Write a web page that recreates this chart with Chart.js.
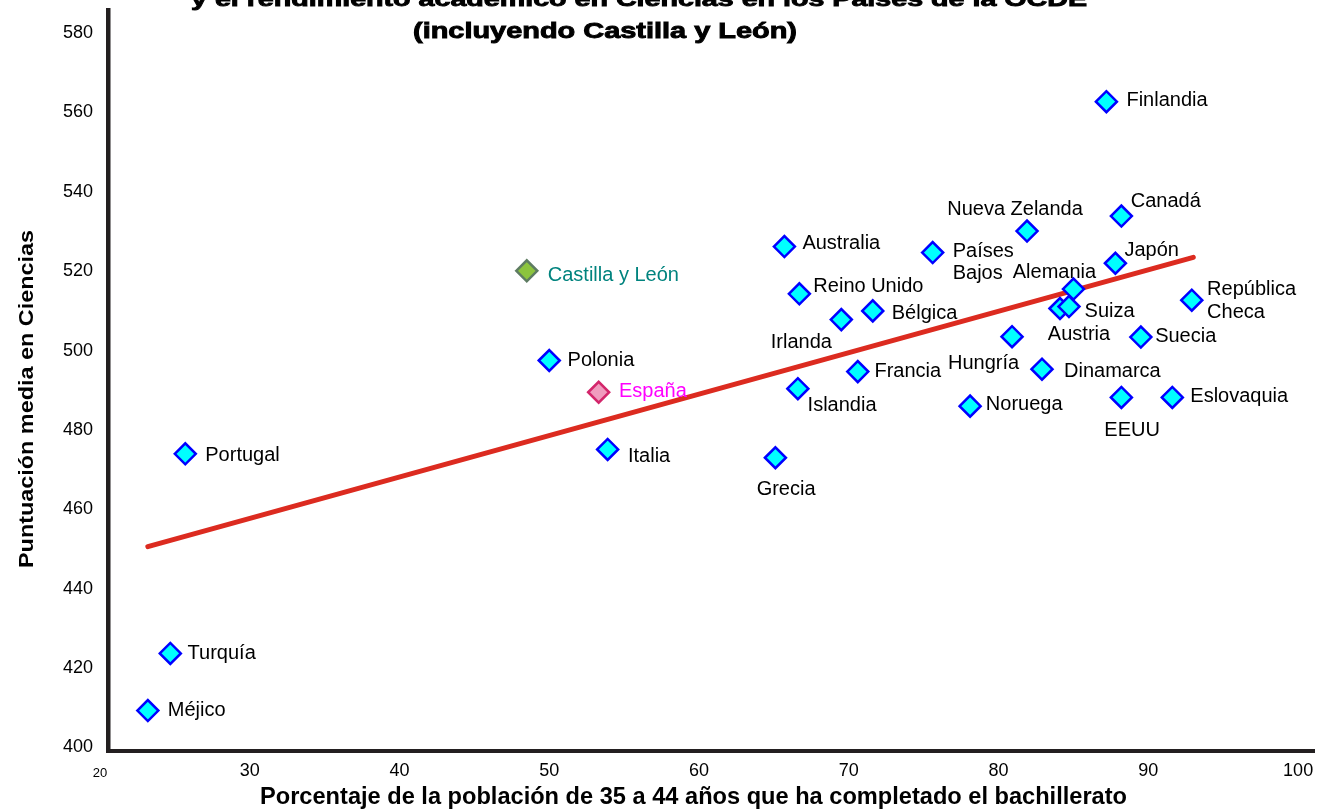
<!DOCTYPE html>
<html lang="es">
<head>
<meta charset="utf-8">
<title>Nivel educativo y rendimiento en Ciencias</title>
<script src="https://cdn.jsdelivr.net/npm/chart.js@4.4.1/dist/chart.umd.min.js"></script>
<style>
  html, body { margin:0; padding:0; background:#fff; }
  #wrap { width:1319px; height:809px; }
</style>
</head>
<body>
<div id="wrap"><canvas id="chart" width="1319" height="809"></canvas></div>
<script>
// ====== DATA ======
const countries = ['Finlandia','Canadá','Nueva Zelanda','Países Bajos','Australia','Japón','Reino Unido',
  'República Checa','Austria','Suiza','Alemania','Bélgica','Irlanda','Suecia','Hungría','Polonia','Dinamarca',
  'Francia','Islandia','EEUU','Eslovaquia','Noruega','Italia','Portugal','Grecia','Turquía','Méjico'];
const pctBachillerato = [87.2, 88.2, 81.9, 75.6, 65.7, 87.8, 66.7,
  92.9, 84.1, 84.7, 85.0, 71.6, 69.5, 89.5, 80.9, 50.0, 82.9,
  70.6, 66.6, 88.2, 91.6, 78.1, 53.9, 25.7, 65.1, 24.7, 23.2];
const scoreCiencias = [562.7, 533.9, 530.1, 524.7, 526.2, 522.0, 514.3,
  512.7, 510.6, 511.1, 515.5, 510.0, 507.8, 503.4, 503.5, 497.5, 495.3,
  494.7, 490.4, 488.2, 488.2, 486.0, 475.1, 474.0, 473.0, 423.7, 409.3];

const regionNames = ['Castilla y León', 'España'];
const regionPct = [48.5, 53.3];
const regionScore = [520.1, 489.5];

// recta de tendencia (extremos)
const trendPct = [23.2, 93.0];
const trendScore = [450.6, 523.5];

const xTicks = [20, 30, 40, 50, 60, 70, 80, 90, 100];
const yTicks = [400, 420, 440, 460, 480, 500, 520, 540, 560, 580];

const titleLines = ['y el rendimiento académico en Ciencias en los Países de la OCDE', '(incluyendo Castilla y León)'];
const xTitle = 'Porcentaje de la población de 35 a 44 años que ha completado el bachillerato';
const yTitle = 'Puntuación media en Ciencias';

// ====== STYLE ======
const FONT = '"Liberation Sans", Arial, Helvetica, sans-serif';
Chart.defaults.font.family = FONT;

// label offsets from the point: [dx, dy, align, twoLines]
const labelAt = {
  'Finlandia': [20, -3], 'Canadá': [9.4, -16], 'Nueva Zelanda': [-12, -23, 'center'],
  'Países Bajos': [20, -2.7, 'left', true], 'Australia': [18, -4.7], 'Japón': [9, -14.6],
  'Reino Unido': [14, -8.7], 'Alemania': [-19, -18, 'center'], 'República Checa': [15.3, -12, 'left', true],
  'Suiza': [15.6, 3.3], 'Austria': [19, 24.3, 'center'], 'Bélgica': [19, 0.7], 'Irlanda': [-40, 21, 'center'],
  'Suecia': [14.3, -2.3], 'Hungría': [-28.5, 25, 'center'], 'Polonia': [18.3, -2], 'Dinamarca': [22, 1],
  'Francia': [16.7, -2], 'Islandia': [9.7, 15], 'EEUU': [10.7, 32, 'center'], 'Eslovaquia': [18, -2.3],
  'Noruega': [15.7, -2.7], 'Italia': [20.3, 5.4], 'Portugal': [20, 0], 'Grecia': [10.7, 30.3, 'center'],
  'Turquía': [17.3, -1.3], 'Méjico': [20, -2], 'Castilla y León': [21, 2.8], 'España': [20.3, -2]
};
const labelColor = { 'Castilla y León': '#00837e', 'España': '#ff00ff' };

// ====== PLUGINS ======
const pointLabels = {
  id: 'pointLabels',
  afterDatasetsDraw(chart){
    const ctx = chart.ctx;
    ctx.save();
    ctx.font = `20px ${FONT}`;
    ctx.textBaseline = 'middle';
    chart.data.datasets.forEach((ds, di) => {
      if(!ds.names) return;
      chart.getDatasetMeta(di).data.forEach((pt, i) => {
        const name = ds.names[i];
        const [dx, dy, align, wrap] = labelAt[name] || [18, 0];
        ctx.fillStyle = labelColor[name] || '#000';
        ctx.textAlign = align || 'left';
        const lines = wrap ? name.split(' ') : [name];
        lines.forEach((l, k) => ctx.fillText(l, pt.x + dx, pt.y + dy + 1.5 + k * 22.5));
      });
    });
    ctx.restore();
  }
};

// text stretched horizontally to a given width (heavy = extra stroke)
function wideText(ctx, text, cx, cy, width, font, rot, heavy){
  ctx.font = font;
  const w = ctx.measureText(text).width;
  ctx.save();
  ctx.translate(cx, cy);
  if(rot) ctx.rotate(rot);
  ctx.scale(width / w, 1);
  ctx.textAlign = 'center';
  ctx.textBaseline = 'alphabetic';
  ctx.fillStyle = '#000';
  ctx.fillText(text, 0, 0);
  if(heavy){ ctx.strokeStyle = '#000'; ctx.lineWidth = heavy; ctx.strokeText(text, 0, 0); }
  ctx.restore();
}

const titles = {
  id: 'titles',
  afterDraw(chart){
    const ctx = chart.ctx;
    wideText(ctx, titleLines[0], 639, 6, 896, `bold 21px ${FONT}`, 0, 0.9);
    wideText(ctx, titleLines[1], 605, 38, 384, `bold 22px ${FONT}`, 0, 0.9);
    wideText(ctx, xTitle, 693.5, 804, 867, `bold 23px ${FONT}`);
    wideText(ctx, yTitle, 32.5, 399, 338, `bold 21px ${FONT}`, -Math.PI / 2);
  }
};

// ====== CHART ======
const ctx = document.getElementById('chart').getContext('2d');
new Chart(ctx, {
  type: 'scatter',
  data: {
    datasets: [
      {
        label: 'Castilla y León / España',
        data: regionNames.map((n, i) => ({ x: regionPct[i], y: regionScore[i] })),
        names: regionNames,
        pointStyle: 'rectRot', pointRadius: 10.5, pointHoverRadius: 10.5, pointBorderWidth: 2.5,
        pointBackgroundColor: ['#8cc43e', '#f09cbe'],
        pointBorderColor: ['#5e7c62', '#d3266b']
      },
      {
        label: 'Países OCDE',
        data: countries.map((n, i) => ({ x: pctBachillerato[i], y: scoreCiencias[i] })),
        names: countries,
        pointStyle: 'rectRot', pointRadius: 10.5, pointHoverRadius: 10.5, pointBorderWidth: 2.5,
        pointBackgroundColor: '#00ffff', pointBorderColor: '#0000ff'
      },
      {
        type: 'line',
        label: 'Tendencia',
        data: trendPct.map((x, i) => ({ x, y: trendScore[i] })),
        borderColor: '#dc2b20', borderWidth: 5, borderCapStyle: 'round',
        pointRadius: 0, fill: false, tension: 0
      }
    ]
  },
  options: {
    responsive: false,
    animation: false,
    devicePixelRatio: 1,
    layout: { autoPadding: false, padding: { top: 10, right: 5, left: 0, bottom: 0 } },
    plugins: { legend: { display: false }, tooltip: { enabled: false }, title: { display: false } },
    scales: {
      x: {
        type: 'linear', min: 20.54, max: 101.06,
        afterBuildTicks: s => { s.ticks = xTicks.map(v => ({ value: v })); },
        afterFit: s => { s.height = 58; s.paddingLeft = 0; s.paddingRight = 0; },
        grid: { display: false, drawTicks: false },
        border: { display: true, color: '#231f20', width: 4 },
        ticks: {
          padding: 9, color: '#000', autoSkip: false, maxRotation: 0,
          font: c => (c.tick && c.tick.value === 20) ? { size: 13, lineHeight: 2 } : { size: 18 }
        }
      },
      y: {
        type: 'linear', min: 399.12, max: 585.8,
        afterBuildTicks: s => { s.ticks = yTicks.map(v => ({ value: v })); },
        afterFit: s => { s.width = 108; s.paddingTop = 0; s.paddingBottom = 0; },
        grid: { display: false, drawTicks: false },
        border: { display: true, color: '#231f20', width: 4.5 },
        ticks: { padding: 15, color: '#000', font: { size: 18 } }
      }
    }
  },
  plugins: [pointLabels, titles]
});
</script>
</body>
</html>
